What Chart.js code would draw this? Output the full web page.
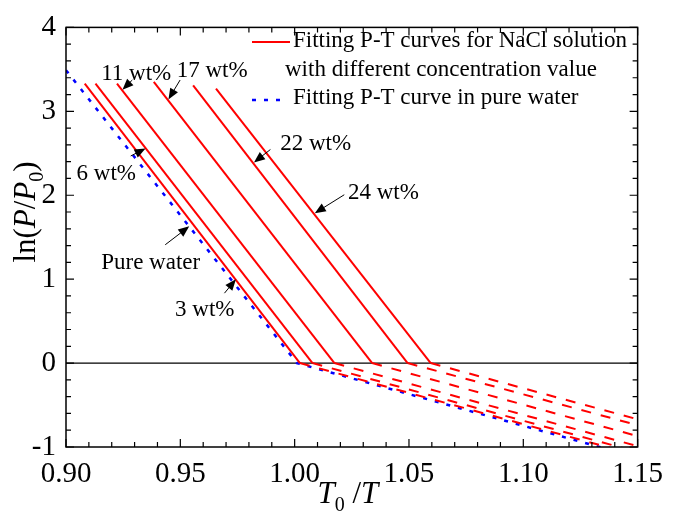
<!DOCTYPE html>
<html>
<head>
<meta charset="utf-8">
<script src="https://cdn.jsdelivr.net/npm/chart.js@4.4.1/dist/chart.umd.min.js"></script>
<style>
html, body { margin: 0; padding: 0; background: #fff; }
#wrap { width: 673px; height: 517px; }
</style>
</head>
<body>
<div id="wrap"><canvas id="graph1" width="673" height="517"></canvas></div>
<script>
// NaCl solutions: start of the steep fit, knee on ln(P/P0)=0, end of the dashed part
var concLabels = ['3 wt%', '6 wt%', '11 wt%', '17 wt%', '22 wt%', '24 wt%'];
var startT = [0.9082, 0.9129, 0.9223, 0.9384, 0.9556, 0.9656];
var startLnP = [3.33, 3.33, 3.33, 3.35, 3.31, 3.27];
var kneeT = [1.0023, 1.0078, 1.0174, 1.0339, 1.0494, 1.0595];
var endT = [1.15, 1.15, 1.15, 1.15, 1.15, 1.15];
var endLnP = [-1.10, -1.06, -0.99, -0.87, -0.74, -0.67];

// pure water
var pureT = [0.900, 1.001, 1.150];
var pureLnP = [3.49, 0, -1.125];

var xTicks = [0.90, 0.95, 1.00, 1.05, 1.10, 1.15];
var yTicks = [-1, 0, 1, 2, 3, 4];

// labels with arrows, in data units (text anchor, arrow tail, arrow tip)
var notes = [
    { text: '3 wt%',      at: [0.9477, 0.565], from: [0.9693, 0.833], to: [0.9743, 0.998] },
    { text: '6 wt%',      at: [0.9046, 2.181], from: [0.9283, 2.468], to: [0.9348, 2.557] },
    { text: '11 wt%',     at: [0.9154, 3.376], from: [0.9290, 3.373], to: [0.9247, 3.257] },
    { text: '17 wt%',     at: [0.9484, 3.411], from: [0.9499, 3.373], to: [0.9448, 3.142] },
    { text: '22 wt%',     at: [0.9937, 2.545], from: [0.9894, 2.545], to: [0.9822, 2.391] },
    { text: '24 wt%',     at: [1.0233, 1.956], from: [1.0217, 2.006], to: [1.0088, 1.786] },
    { text: 'Pure water', at: [0.9154, 1.125], from: [0.9434, 1.410], to: [0.9539, 1.629] }
];

var FONT = 'Liberation Serif';
var RED = '#ff0000';
var BLUE = '#0000ff';

var datasets = [];
for (var i = 0; i < concLabels.length; i++) {
    datasets.push({
        label: concLabels[i],
        data: [{ x: startT[i], y: startLnP[i] }, { x: kneeT[i], y: 0 }],
        borderColor: RED, backgroundColor: RED, borderWidth: 2,
        pointRadius: 0, showLine: true
    });
    datasets.push({
        label: concLabels[i] + ' (below 0)',
        data: [{ x: kneeT[i], y: 0 }, { x: endT[i], y: endLnP[i] }],
        borderColor: RED, backgroundColor: RED, borderWidth: 2, borderDash: [10, 10],
        pointRadius: 0, showLine: true
    });
}
datasets.push({
    label: 'Pure water',
    data: pureT.map(function (t, k) { return { x: t, y: pureLnP[k] }; }),
    borderColor: BLUE, backgroundColor: BLUE, borderWidth: 2.5, borderDash: [4, 8],
    pointRadius: 0, showLine: true
});

function arrow(ctx, x1, y1, x2, y2) {
    var a = Math.atan2(y2 - y1, x2 - x1), L = 11, W = 4.5;
    var c = Math.cos(a), s = Math.sin(a);
    ctx.beginPath();
    ctx.moveTo(x1, y1);
    ctx.lineTo(x2 - L * c * 0.8, y2 - L * s * 0.8);
    ctx.stroke();
    ctx.beginPath();
    ctx.moveTo(x2, y2);
    ctx.lineTo(x2 - L * c + W * s, y2 - L * s - W * c);
    ctx.lineTo(x2 - L * c - W * s, y2 - L * s + W * c);
    ctx.closePath();
    ctx.fill();
}

// text made of pieces: n = normal, i = italic, s = subscript
function richWidth(ctx, parts, size) {
    var w = 0;
    parts.forEach(function (p) {
        ctx.font = (p[1] === 'i' ? 'italic ' : '') + (p[1] === 's' ? Math.round(size * 0.65) : size) + 'px ' + FONT;
        w += ctx.measureText(p[0]).width;
    });
    return w;
}
function richText(ctx, parts, x, y, size) {
    parts.forEach(function (p) {
        ctx.font = (p[1] === 'i' ? 'italic ' : '') + (p[1] === 's' ? Math.round(size * 0.65) : size) + 'px ' + FONT;
        ctx.fillText(p[0], x, p[1] === 's' ? y + size * 0.25 : y);
        x += ctx.measureText(p[0]).width;
    });
}

var decor = {
    id: 'decor',
    beforeDatasetsDraw: function (chart) {
        var ctx = chart.ctx, a = chart.chartArea, ys = chart.scales.y;
        ctx.save();
        ctx.strokeStyle = '#000';
        ctx.lineWidth = 1.2;
        var y0 = ys.getPixelForValue(0);
        ctx.beginPath(); ctx.moveTo(a.left, y0); ctx.lineTo(a.right, y0); ctx.stroke();
        ctx.restore();
    },
    afterDraw: function (chart) {
        var ctx = chart.ctx, a = chart.chartArea, xs = chart.scales.x, ys = chart.scales.y;
        ctx.save();
        ctx.strokeStyle = '#000';
        ctx.fillStyle = '#000';
        ctx.lineWidth = 1.5;
        ctx.strokeRect(a.left, a.top, a.right - a.left, a.bottom - a.top);

        // inward ticks, all four sides
        ctx.lineWidth = 1.2;
        ctx.beginPath();
        for (var k = 0; k <= 25; k++) {
            var px = xs.getPixelForValue(0.9 + k * 0.01), len = k % 5 === 0 ? 8 : 5;
            ctx.moveTo(px, a.bottom); ctx.lineTo(px, a.bottom - len);
            ctx.moveTo(px, a.top); ctx.lineTo(px, a.top + len);
        }
        for (k = 0; k <= 25; k++) {
            var py = ys.getPixelForValue(-1 + k * 0.2), ln = k % 5 === 0 ? 8 : 5;
            ctx.moveTo(a.left, py); ctx.lineTo(a.left + ln, py);
            ctx.moveTo(a.right, py); ctx.lineTo(a.right - ln, py);
        }
        ctx.stroke();

        // notes with arrows
        ctx.lineWidth = 1;
        ctx.font = '23px ' + FONT;
        ctx.textBaseline = 'alphabetic';
        ctx.textAlign = 'left';
        notes.forEach(function (n) {
            ctx.fillText(n.text, xs.getPixelForValue(n.at[0]), ys.getPixelForValue(n.at[1]));
            arrow(ctx, xs.getPixelForValue(n.from[0]), ys.getPixelForValue(n.from[1]),
                xs.getPixelForValue(n.to[0]), ys.getPixelForValue(n.to[1]));
        });

        // legend
        ctx.lineWidth = 2;
        ctx.strokeStyle = RED;
        ctx.beginPath(); ctx.moveTo(252, 42); ctx.lineTo(290, 42); ctx.stroke();
        ctx.strokeStyle = BLUE;
        ctx.lineWidth = 2.5;
        ctx.setLineDash([4, 8]);
        ctx.beginPath(); ctx.moveTo(252, 100); ctx.lineTo(284, 100); ctx.stroke();
        ctx.setLineDash([]);
        ctx.fillText('Fitting P-T curves for NaCl solution', 293, 47);
        ctx.fillText('with different concentration value', 285, 76);
        ctx.fillText('Fitting P-T curve in pure water', 293, 104);

        // axis titles
        var ySize = 31;
        var yParts = [['ln(', 'n'], ['P', 'i'], ['/', 'n'], ['P', 'i'], ['0', 's'], [')', 'n']];
        ctx.save();
        ctx.translate(35, 212);
        ctx.rotate(-Math.PI / 2);
        richText(ctx, yParts, -richWidth(ctx, yParts, ySize) / 2, 0, ySize);
        ctx.restore();

        var xParts = [['T', 'i'], ['0', 's'], [' /', 'n'], ['T', 'i']];
        var xw = richWidth(ctx, xParts, ySize);
        richText(ctx, xParts, (a.left + a.right) / 2 - xw / 2 - 4, 503, ySize);
        ctx.restore();
    }
};

var chart = new Chart(document.getElementById('graph1').getContext('2d'), {
    type: 'scatter',
    data: { datasets: datasets },
    options: {
        responsive: false,
        animation: false,
        layout: { padding: { top: 14, right: 27, left: 0, bottom: 0 } },
        plugins: { legend: { display: false }, tooltip: { enabled: false } },
        scales: {
            x: {
                type: 'linear', min: 0.9, max: 1.15,
                afterBuildTicks: function (s) { s.ticks = xTicks.map(function (v) { return { value: v }; }); },
                afterFit: function (s) { s.height = 70; },
                grid: { display: false, drawTicks: false },
                border: { display: false },
                ticks: {
                    padding: 10, color: '#000', maxRotation: 0, autoSkip: false,
                    font: { family: FONT, size: 29 },
                    callback: function (v) { return Number(v).toFixed(2); }
                }
            },
            y: {
                type: 'linear', min: -1, max: 4,
                afterBuildTicks: function (s) { s.ticks = yTicks.map(function (v) { return { value: v }; }); },
                afterFit: function (s) { s.width = 66; },
                grid: { display: false, drawTicks: false },
                border: { display: false },
                ticks: {
                    padding: 10, color: '#000', autoSkip: false,
                    font: { family: FONT, size: 29 },
                    callback: function (v) { return String(v); }
                }
            }
        }
    },
    plugins: [decor]
});
</script>
</body>
</html>
